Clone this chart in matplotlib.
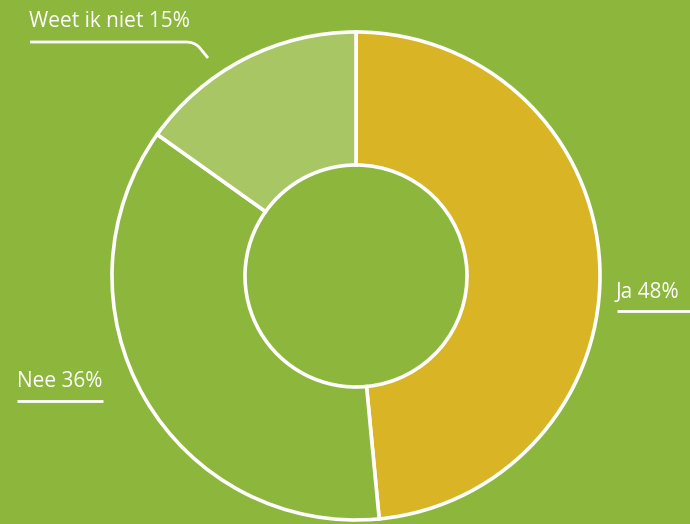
import matplotlib.pyplot as plt
from matplotlib.path import Path
from matplotlib.patches import PathPatch

labels = ["Ja", "Nee", "Weet ik niet"]
values = [48, 36, 15]
colors = ["#d9b424", "#8db73c", "#a8c764"]
bg = "#8db73c"

fig = plt.figure(figsize=(6.9, 5.24), dpi=100, facecolor=bg)
ax = fig.add_axes([0, 0, 1, 1])
ax.set_facecolor(bg)

# pie in pixel-like coordinates (y grows downward)
cx, cy, r_out, r_in = 356, 276, 244, 111
ax.pie(values, colors=colors, startangle=90, counterclock=False,
       center=(cx, -cy), radius=r_out,
       wedgeprops=dict(width=r_out - r_in, edgecolor="white", linewidth=2.6))
ax.set_xlim(0, 690)
ax.set_ylim(-524, 0)
ax.set_aspect("equal")
ax.axis("off")

font = dict(color="white", fontsize=15, family="Open Sans")

# Ja
ax.text(616, -298, f"{labels[0]} {values[0]}%", ha="left", va="baseline", **font)
ax.plot([617, 690], [-311, -311], color="white", lw=2.0, solid_capstyle="butt")

# Nee
ax.text(17, -387, f"{labels[1]} {values[1]}%", ha="left", va="baseline", **font)
ax.plot([17, 103], [-401, -401], color="white", lw=2.0, solid_capstyle="butt")

# Weet ik niet
ax.text(29, -27, f"{labels[2]} {values[2]}%", ha="left", va="baseline", **font)
verts = [(30, -42), (186, -42), (194, -42), (199, -47), (208, -58)]
codes = [Path.MOVETO, Path.LINETO, Path.CURVE3, Path.CURVE3, Path.LINETO]
ax.add_patch(PathPatch(Path(verts, codes), fill=False, edgecolor="white", lw=2.0))

fig.savefig("out.png", dpi=100, facecolor=bg)
